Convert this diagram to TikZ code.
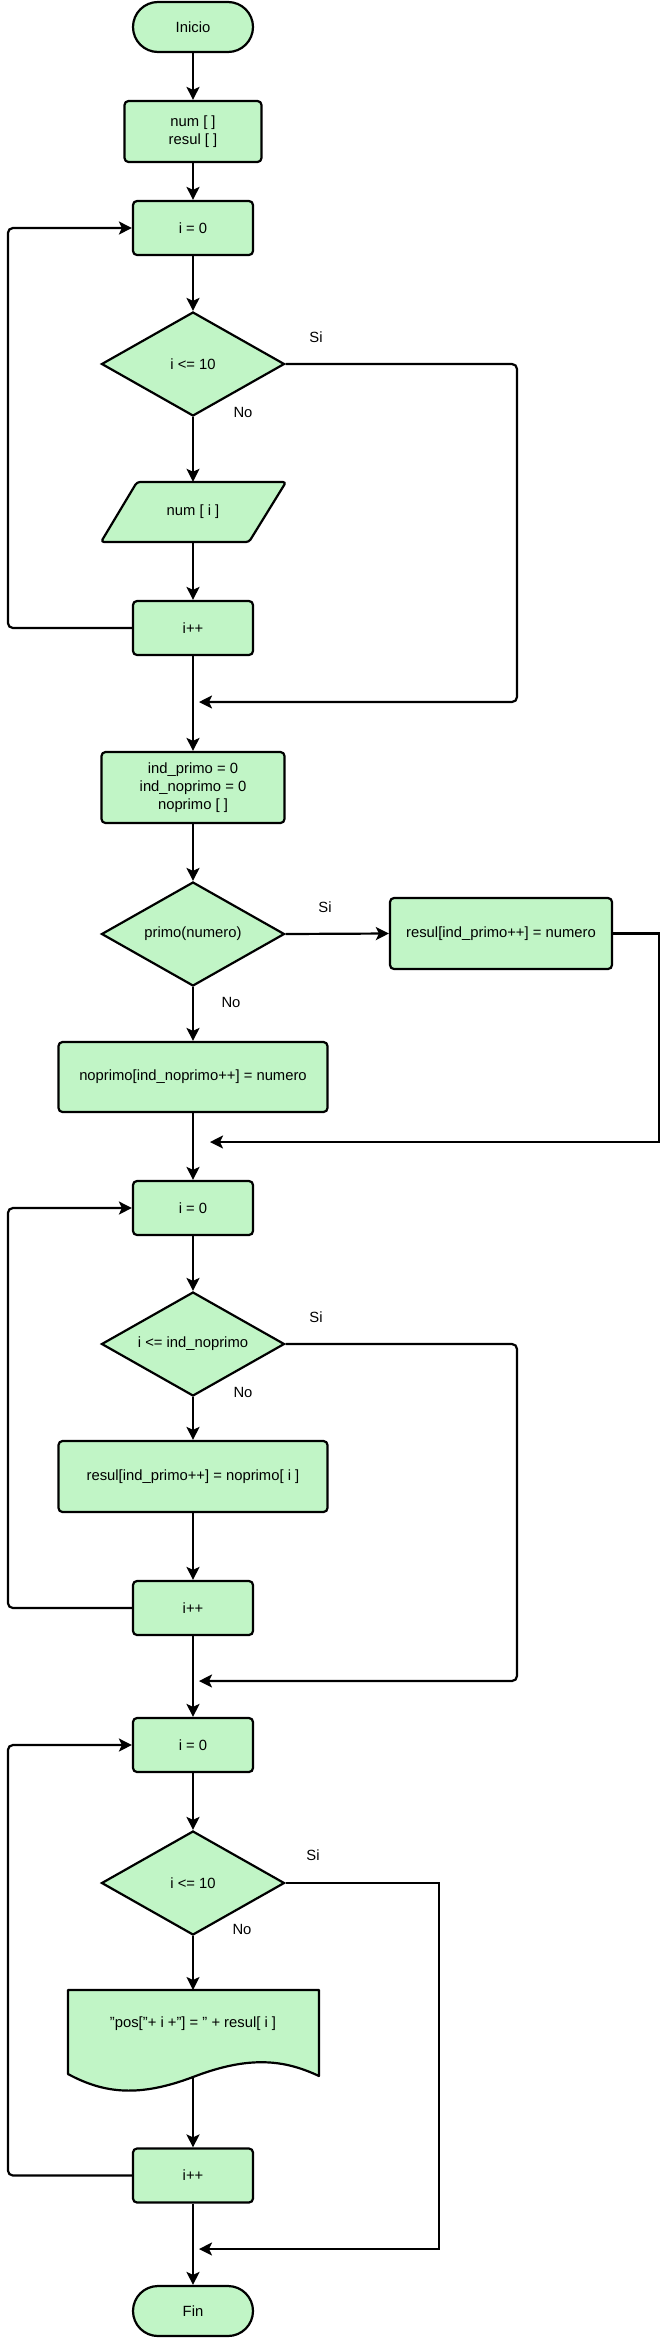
\documentclass[tikz,border=0pt]{standalone}
\usepackage{fontspec}
\setmainfont{Liberation Sans}
\usetikzlibrary{shapes.geometric,arrows.meta}
\definecolor{fc}{RGB}{193,245,198}
\begin{document}
\begin{tikzpicture}[x=1pt,y=-1pt,
  every node/.style={font=\fontsize{14.8}{18}\selectfont},
  box/.style={draw,line width=2.2pt,fill=fc,rounded corners=4pt,align=center,inner sep=0pt},
  proc/.style={box,minimum width=120pt,minimum height=54pt},
  term/.style={box,rounded corners=25pt,minimum width=120pt,minimum height=50pt},
  dec/.style={draw,line width=2.2pt,fill=fc,diamond,aspect=1.76,minimum width=183pt,minimum height=104pt,inner sep=0pt,align=center},
  shp/.style={draw,line width=2.2pt,fill=fc,line join=round},
  txt/.style={align=center,inner sep=0pt},
  arr/.style={line width=2.2pt,-{Stealth[length=13pt,width=13pt,inset=3pt]}},
  rc/.style={rounded corners=5pt},
  lbl/.style={inner sep=0pt}
]
\useasboundingbox (0,0) rectangle (668,2340);

% ---- nodes ----
\node[term] (inicio) at (193,27) {Inicio};
\node[box,minimum width=137pt,minimum height=61pt] (decl) at (193,131.5) {num [ ]\\resul [ ]};
\node[proc] (i0a) at (193,228) {i = 0};
\node[dec] (d1) at (193,364) {i <= 10};
\draw[shp,rounded corners=3pt] (137,482) -- (286,482) -- (249,542) -- (101,542) -- cycle;
\node[txt,minimum width=150pt,minimum height=60pt] (read) at (193,512) {num [ i ]};
\node[proc] (inc1) at (193,628) {i++};
\node[box,minimum width=183pt,minimum height=71pt] (init2) at (193,787.5) {ind\_primo = 0\\ind\_noprimo = 0\\noprimo [ ]};
\node[dec] (d2) at (193,934) {primo(numero)};
\node[box,minimum width=222pt,minimum height=71pt] (yes2) at (501,933.5) {resul[ind\_primo++] = numero};
\node[box,minimum width=269pt,minimum height=70pt] (no2) at (193,1077) {noprimo[ind\_noprimo++] = numero};
\node[proc] (i0b) at (193,1208) {i = 0};
\node[dec] (d3) at (193,1344) {i <= ind\_noprimo};
\node[box,minimum width=269pt,minimum height=71pt] (body3) at (193,1476.5) {resul[ind\_primo++] = noprimo[ i ]};
\node[proc] (inc3) at (193,1608) {i++};
\node[proc] (i0c) at (193,1745) {i = 0};
\node[dec] (d4) at (193,1883) {i <= 10};
\draw[shp] (68,1990) -- (319,1990) -- (319,2076)
  .. controls (285,2060) and (250,2055) .. (193,2077)
  .. controls (140,2097) and (105,2094) .. (68,2074) -- cycle;
\node[txt] (doc) at (193,2024) {"pos["+ i +"] = " + resul[ i ]};
\coordinate (doct) at (193,1990);
\coordinate (docb) at (193,2078);
\node[proc] (inc4) at (193,2175.5) {i++};
\node[term] (fin) at (193,2311) {Fin};

% ---- merge points ----
\coordinate (r1) at (517,702);  \coordinate (m1) at (199,702);
\coordinate (r2) at (659,1142); \coordinate (m2) at (210,1142);
\coordinate (r3) at (517,1681); \coordinate (m3) at (199,1681);
\coordinate (r4) at (439,2249); \coordinate (m4) at (199,2249);

% ---- labels ----
\node[lbl] (si1) at (316,337) {Si};
\node[lbl] (no1) at (243,412) {No};
\node[lbl] (si2) at (325,907) {Si};
\node[lbl] (no2l) at (231,1002) {No};
\node[lbl] (si3) at (316,1317) {Si};
\node[lbl] (no3) at (243,1392) {No};
\node[lbl] (si4) at (313,1855) {Si};
\node[lbl] (no4) at (242,1929) {No};

% ---- connectors ----
\draw[arr] (inicio) -- (decl);
\draw[arr] (decl) -- (i0a);
\draw[arr] (i0a) -- (d1);
\draw[arr] (d1.south) -- (read.north);
\draw[arr] (read.south) -- (inc1);
\draw[arr,rc] (inc1.west) -- ++(-124,0) |- (i0a.west);
\draw[arr,rc] (d1.east) -| (r1) -- (m1);
\draw[arr] (inc1) -- (init2);
\draw[arr] (init2) -- (d2);
\draw[arr] (d2.east) -- (yes2.west);
\draw[arr] (yes2.east) -| (r2) -- (m2);
\draw[arr] (d2.south) -- (no2.north);
\draw[arr] (no2) -- (i0b);
\draw[arr] (i0b) -- (d3);
\draw[arr,rc] (d3.east) -| (r3) -- (m3);
\draw[arr] (d3.south) -- (body3.north);
\draw[arr] (body3) -- (inc3);
\draw[arr,rc] (inc3.west) -- ++(-124,0) |- (i0b.west);
\draw[arr] (inc3) -- (i0c);
\draw[arr] (i0c) -- (d4);
\draw[arr] (d4.east) -| (r4) -- (m4);
\draw[arr] (d4.south) -- (doct);
\draw[arr] (docb) -- (inc4);
\draw[arr,rc] (inc4.west) -- ++(-124,0) |- (i0c.west);
\draw[arr] (inc4) -- (fin);
\end{tikzpicture}
\end{document}
